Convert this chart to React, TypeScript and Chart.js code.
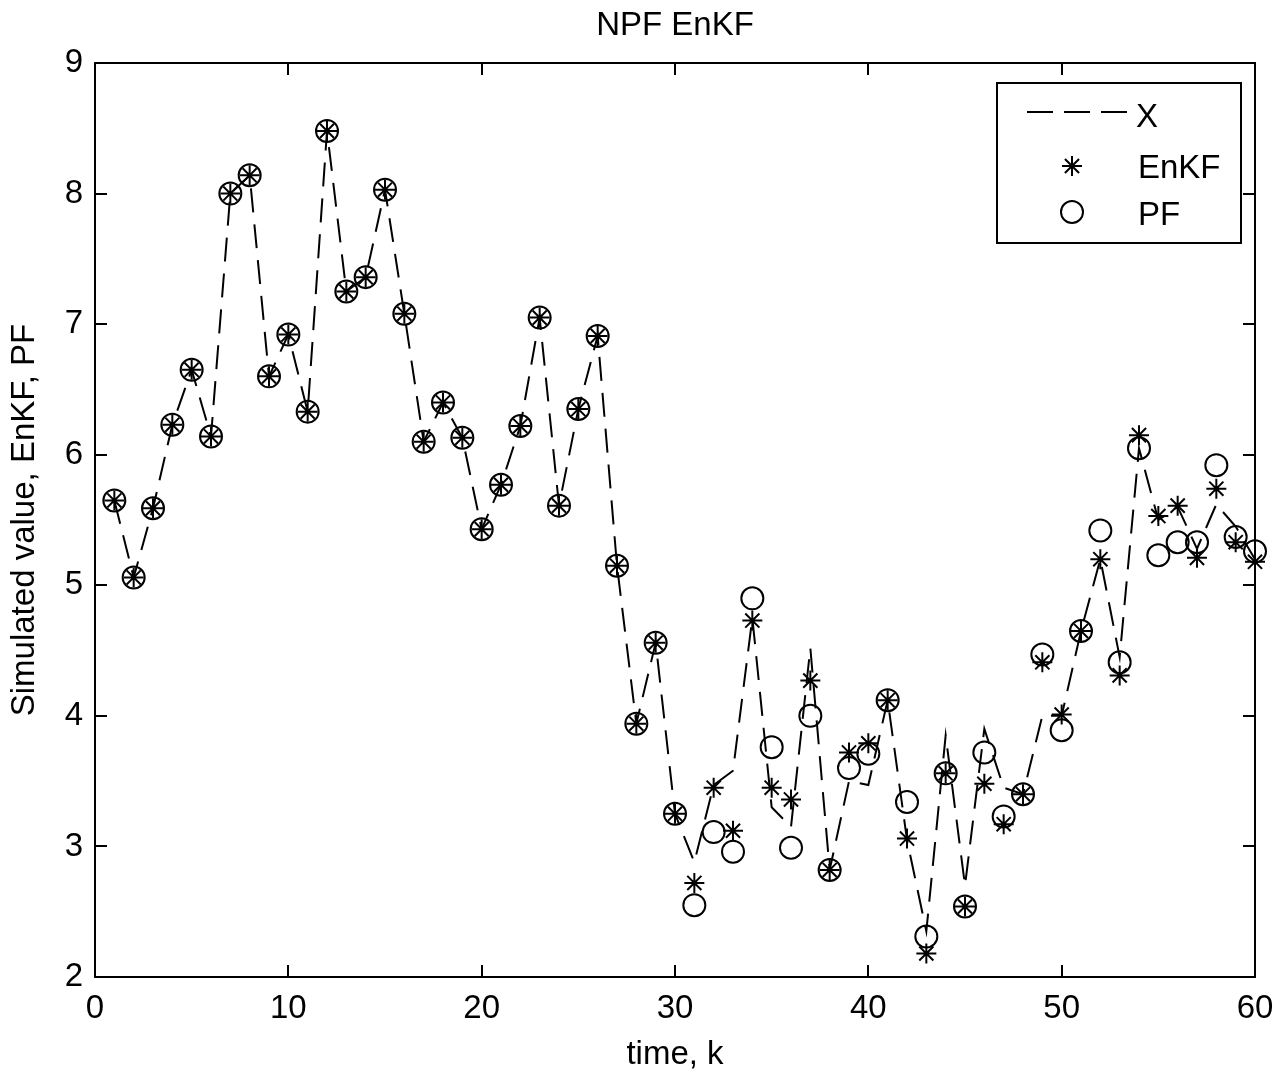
import React, { useEffect, useRef } from 'react';
import { Chart, registerables } from 'chart.js';

Chart.register(...registerables);

const timeSteps = [
  1, 2, 3, 4, 5, 6, 7, 8, 9, 10,
  11, 12, 13, 14, 15, 16, 17, 18, 19, 20,
  21, 22, 23, 24, 25, 26, 27, 28, 29, 30,
  31, 32, 33, 34, 35, 36, 37, 38, 39, 40,
  41, 42, 43, 44, 45, 46, 47, 48, 49, 50,
  51, 52, 53, 54, 55, 56, 57, 58, 59, 60,
];

const trueX = [
  5.65, 5.06, 5.59, 6.23, 6.65, 6.14, 8.0, 8.14, 6.6, 6.92,
  6.33, 8.48, 7.25, 7.36, 8.03, 7.08, 6.1, 6.4, 6.13, 5.43,
  5.77, 6.22, 7.05, 5.61, 6.35, 6.91, 5.15, 3.94, 4.56, 3.25,
  2.88, 3.47, 3.58, 4.75, 3.3, 3.15, 4.52, 2.82, 3.5, 3.47,
  4.12, 3.05, 2.35, 3.85, 2.7, 3.9, 3.45, 3.4, 4.0, 4.0,
  4.65, 5.2, 4.45, 6.05, 5.5, 5.6, 5.28, 5.62, 5.45, 5.2,
];

const enkfValues = [
  5.65, 5.06, 5.59, 6.23, 6.65, 6.14, 8.0, 8.14, 6.6, 6.92,
  6.33, 8.48, 7.25, 7.36, 8.03, 7.08, 6.1, 6.4, 6.13, 5.43,
  5.77, 6.22, 7.05, 5.61, 6.35, 6.91, 5.15, 3.94, 4.56, 3.25,
  2.72, 3.45, 3.12, 4.73, 3.45, 3.36, 4.27, 2.82, 3.72, 3.79,
  4.12, 3.06, 2.18, 3.56, 2.54, 3.48, 3.17, 3.4, 4.41, 4.01,
  4.65, 5.2, 4.31, 6.15, 5.53, 5.61, 5.21, 5.74, 5.33, 5.18,
];

const pfValues = [
  5.65, 5.06, 5.59, 6.23, 6.65, 6.14, 8.0, 8.14, 6.6, 6.92,
  6.33, 8.48, 7.25, 7.36, 8.03, 7.08, 6.1, 6.4, 6.13, 5.43,
  5.77, 6.22, 7.05, 5.61, 6.35, 6.91, 5.15, 3.94, 4.56, 3.25,
  2.55, 3.11, 2.96, 4.9, 3.76, 2.99, 4.0, 2.82, 3.6, 3.71,
  4.12, 3.34, 2.31, 3.56, 2.54, 3.72, 3.23, 3.4, 4.47, 3.89,
  4.65, 5.42, 4.41, 6.05, 5.23, 5.33, 5.33, 5.92, 5.37, 5.26,
];

const xTickValues = [0, 10, 20, 30, 40, 50, 60];
const yTickValues = [2, 3, 4, 5, 6, 7, 8, 9];

const titleText = 'NPF EnKF';
const xAxisLabel = 'time, k';
const yAxisLabel = 'Simulated value, EnKF, PF';
const legendLabels = ['X', 'EnKF', 'PF'];

const FONT = '"Liberation Sans", Arial, Helvetica, sans-serif';
const FONT_SIZE = 33;

function drawStar(ctx: CanvasRenderingContext2D, x: number, y: number, r: number) {
  const d = r * Math.cos(Math.PI / 4);
  ctx.beginPath();
  ctx.moveTo(x - r, y);
  ctx.lineTo(x + r, y);
  ctx.moveTo(x, y - r);
  ctx.lineTo(x, y + r);
  ctx.moveTo(x - d, y - d);
  ctx.lineTo(x + d, y + d);
  ctx.moveTo(x - d, y + d);
  ctx.lineTo(x + d, y - d);
  ctx.stroke();
}

const matlabFramePlugin = {
  id: 'matlabFrame',
  afterDraw(chart: any) {
    const { ctx, chartArea: a, scales } = chart;
    const xs = scales.x;
    const ys = scales.y;
    ctx.save();
    ctx.strokeStyle = '#000';
    ctx.fillStyle = '#000';
    ctx.setLineDash([]);

    // top & right border
    ctx.lineWidth = 2;
    ctx.beginPath();
    ctx.moveTo(a.left, a.top);
    ctx.lineTo(a.right, a.top);
    ctx.lineTo(a.right, a.bottom);
    ctx.stroke();

    // inward ticks on all four sides
    const TL = 12;
    ctx.beginPath();
    xTickValues.forEach((v) => {
      const px = Math.round(xs.getPixelForValue(v));
      ctx.moveTo(px, a.bottom);
      ctx.lineTo(px, a.bottom - TL);
      ctx.moveTo(px, a.top);
      ctx.lineTo(px, a.top + TL);
    });
    yTickValues.forEach((v) => {
      const py = Math.round(ys.getPixelForValue(v));
      ctx.moveTo(a.left, py);
      ctx.lineTo(a.left + TL, py);
      ctx.moveTo(a.right, py);
      ctx.lineTo(a.right - TL, py);
    });
    ctx.stroke();

    const cx = (a.left + a.right) / 2;
    ctx.font = `${FONT_SIZE}px ${FONT}`;
    ctx.textBaseline = 'alphabetic';

    // title
    ctx.textAlign = 'center';
    ctx.fillText(titleText, cx, a.top - 28);

    // x label
    ctx.fillText(xAxisLabel, cx, a.bottom + 87);

    // y label
    ctx.save();
    ctx.translate(34, (a.top + a.bottom) / 2);
    ctx.rotate(-Math.PI / 2);
    ctx.textAlign = 'center';
    ctx.fillText(yAxisLabel, 0, 0);
    ctx.restore();

    // legend
    const lx = a.right - 258;
    const ly = a.top + 20;
    const lw = 244;
    const lh = 160;
    ctx.fillStyle = '#fff';
    ctx.fillRect(lx, ly, lw, lh);
    ctx.fillStyle = '#000';
    ctx.lineWidth = 2;
    ctx.strokeRect(lx, ly, lw, lh);

    ctx.textAlign = 'left';
    ctx.lineWidth = 2;
    // X (dashed)
    ctx.setLineDash([26, 11]);
    ctx.beginPath();
    ctx.moveTo(lx + 30, ly + 29);
    ctx.lineTo(lx + 130, ly + 29);
    ctx.stroke();
    ctx.setLineDash([]);
    ctx.fillText(legendLabels[0], lx + 139, ly + 44);
    // EnKF (star)
    drawStar(ctx, lx + 75, ly + 83, 10);
    ctx.fillText(legendLabels[1], lx + 141, ly + 95);
    // PF (circle)
    ctx.beginPath();
    ctx.arc(lx + 75, ly + 129, 11, 0, Math.PI * 2);
    ctx.stroke();
    ctx.fillText(legendLabels[2], lx + 141, ly + 142);

    ctx.restore();
  },
};

export default function App() {
  const canvasRef = useRef<HTMLCanvasElement | null>(null);

  useEffect(() => {
    const canvas = canvasRef.current;
    if (!canvas) return;
    const toPoints = (vals: number[]) => timeSteps.map((t, i) => ({ x: t, y: vals[i] }));

    const chart = new Chart(canvas, {
      type: 'line',
      data: {
        datasets: [
          {
            label: legendLabels[0],
            data: toPoints(trueX),
            borderColor: '#000',
            borderWidth: 2,
            borderDash: [24, 12],
            pointRadius: 0,
            tension: 0,
            fill: false,
          },
          {
            label: legendLabels[1],
            data: toPoints(enkfValues),
            showLine: false,
            pointStyle: 'star',
            pointRadius: 10,
            pointBorderWidth: 2,
            pointBorderColor: '#000',
            pointBackgroundColor: '#000',
            borderColor: '#000',
            clip: false,
          },
          {
            label: legendLabels[2],
            data: toPoints(pfValues),
            showLine: false,
            pointStyle: 'circle',
            pointRadius: 11,
            pointBorderWidth: 2,
            pointBorderColor: '#000',
            pointBackgroundColor: 'rgba(0,0,0,0)',
            borderColor: '#000',
            clip: false,
          },
        ],
      },
      options: {
        animation: false,
        responsive: false,
        maintainAspectRatio: false,
        devicePixelRatio: 1,
        layout: { padding: { top: 63, right: 32, left: 0, bottom: 0 } },
        plugins: {
          legend: { display: false },
          title: { display: false },
          tooltip: { enabled: false },
        },
        scales: {
          x: {
            type: 'linear',
            min: 0,
            max: 60,
            grid: { display: false, drawTicks: false },
            border: { display: true, color: '#000', width: 2 },
            ticks: {
              color: '#000',
              font: { family: FONT, size: FONT_SIZE },
              padding: 12,
              maxRotation: 0,
              autoSkip: false,
            },
            afterBuildTicks: (s: any) => {
              s.ticks = xTickValues.map((v) => ({ value: v }));
            },
            afterFit: (s: any) => {
              s.height = 97;
            },
          },
          y: {
            type: 'linear',
            min: 2,
            max: 9,
            grid: { display: false, drawTicks: false },
            border: { display: true, color: '#000', width: 2 },
            ticks: {
              color: '#000',
              font: { family: FONT, size: FONT_SIZE },
              padding: 12,
              autoSkip: false,
            },
            afterBuildTicks: (s: any) => {
              s.ticks = yTickValues.map((v) => ({ value: v }));
            },
            afterFit: (s: any) => {
              s.width = 95;
            },
          },
        },
      },
      plugins: [matlabFramePlugin],
    });

    return () => {
      chart.destroy();
    };
  }, []);

  return (
    <div style={{ position: 'absolute', left: 0, top: 0, width: 1287, height: 1074, background: '#fff' }}>
      <canvas ref={canvasRef} width={1287} height={1074} style={{ display: 'block', width: 1287, height: 1074 }} />
    </div>
  );
}
